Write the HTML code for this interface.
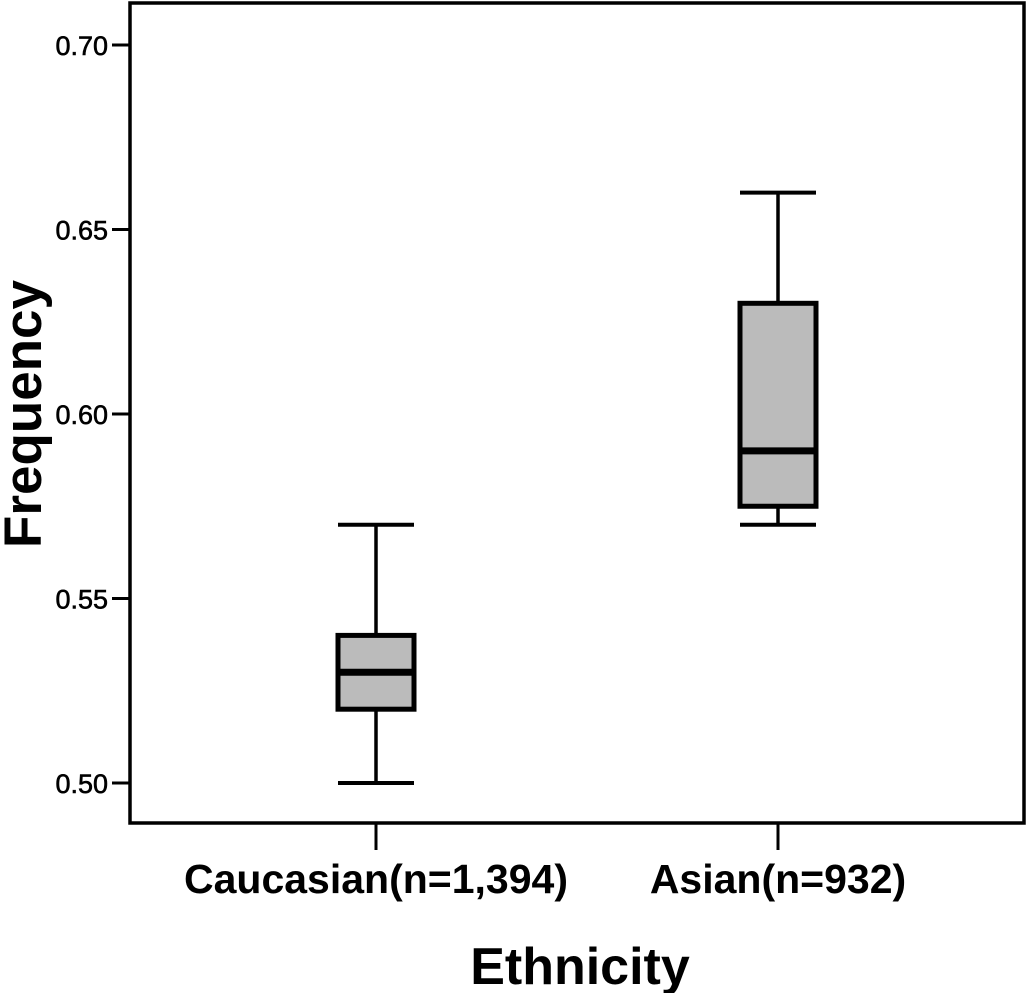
<!DOCTYPE html>
<html><head><meta charset="utf-8"><style>
html,body{margin:0;padding:0;background:#fff;}
svg{display:block;font-family:"Liberation Sans",sans-serif;}
</style></head><body>
<svg id="chart" width="1028" height="993" viewBox="0 0 1028 993"></svg>
<script>
const categories = ["Caucasian(n=1,394)", "Asian(n=932)"];
const whiskerLow = [0.50, 0.57];
const q1Values = [0.52, 0.575];
const medianValues = [0.53, 0.59];
const q3Values = [0.54, 0.63];
const whiskerHigh = [0.57, 0.66];
const yTicks = [0.50, 0.55, 0.60, 0.65, 0.70];
const yTickLabels = ["0.50", "0.55", "0.60", "0.65", "0.70"];

const NS = "http://www.w3.org/2000/svg";
const svg = document.getElementById("chart");
const L = 130, R = 1024, T = 3, B = 823;
function y(v){ return 783 + (0.50 - v) / 0.05 * 184.5; }
const xCenters = [376, 778];
function x(i){ return xCenters[i]; }
function mk(tag, attrs, parent){
  const e = document.createElementNS(NS, tag);
  for (const k in attrs) e.setAttribute(k, attrs[k]);
  (parent || svg).appendChild(e);
  return e;
}
const frame = mk("rect", {x:L, y:T, width:R-L, height:B-T, fill:"none", stroke:"#000", "stroke-width":3.5});



yTicks.forEach((t, i) => {
  const g = mk("g", {});
  
  
  mk("line", {x1:L-18, x2:L, y1:y(t), y2:y(t), stroke:"#000", "stroke-width":3}, g);
  const tx = mk("text", {x:L-22, y:y(t)+10, "text-anchor":"end", "font-size":27, "font-weight":"500", "stroke":"#000", "stroke-width":0.6}, g);
  tx.textContent = yTickLabels[i];
});

categories.forEach((c, i) => {
  const g = mk("g", {});
  
  
  const cx = x(i), hw = 38, cw = 38;
  mk("line", {x1:cx, x2:cx, y1:y(whiskerHigh[i]), y2:y(q3Values[i]), stroke:"#000", "stroke-width":3.5}, g);
  mk("line", {x1:cx, x2:cx, y1:y(q1Values[i]), y2:y(whiskerLow[i]), stroke:"#000", "stroke-width":3.5}, g);
  mk("line", {x1:cx-cw, x2:cx+cw, y1:y(whiskerHigh[i]), y2:y(whiskerHigh[i]), stroke:"#000", "stroke-width":4}, g);
  mk("line", {x1:cx-cw, x2:cx+cw, y1:y(whiskerLow[i]), y2:y(whiskerLow[i]), stroke:"#000", "stroke-width":4}, g);
  mk("rect", {x:cx-hw, y:y(q3Values[i]), width:2*hw, height:y(q1Values[i])-y(q3Values[i]), fill:"#bbbbbb", stroke:"#000", "stroke-width":5}, g);
  mk("line", {x1:cx-hw-1, x2:cx+hw+1, y1:y(medianValues[i]), y2:y(medianValues[i]), stroke:"#000", "stroke-width":7}, g);
  mk("line", {x1:cx, x2:cx, y1:B, y2:B+27, stroke:"#000", "stroke-width":3}, g);
  const tx = mk("text", {x:cx, y:893, "text-anchor":"middle", "font-size":41, "font-weight":"bold"}, g);
  tx.textContent = c;
  
  
});

const xt = mk("text", {x:580, y:984, "text-anchor":"middle", "font-size":52, "font-weight":"bold"});
xt.textContent = "Ethnicity";


const yt = mk("text", {x:0, y:0, "text-anchor":"middle", "font-size":53, "font-weight":"bold", transform:"translate(41,414) rotate(-90)"});
yt.textContent = "Frequency";


</script>
</body></html>
